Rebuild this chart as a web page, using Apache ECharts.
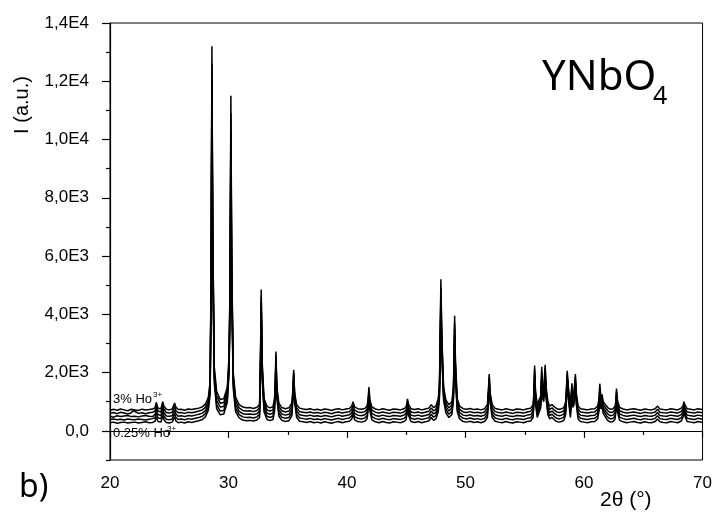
<!DOCTYPE html>
<html>
<head>
<meta charset="utf-8">
<script src="https://cdn.jsdelivr.net/npm/echarts@6/dist/echarts.min.js"></script>
<style>
  html, body { margin: 0; padding: 0; background: #fff; }
  #chart { width: 715px; height: 513px; }
</style>
</head>
<body>
<div id="chart"></div>
<script>
// 2theta grid shared by all five patterns (one line per stretch of the scan)
const twoTheta = [
  20.0, 20.3, 20.6, 20.9, 21.2, 21.5, 21.8, 21.95, 22.1, 22.4, 22.7, 23.0, 23.3, 23.6,
  23.8, 23.9, 24.05, 24.3, 24.45, 24.55, 24.75, 25.0, 25.25, 25.45, 25.55, 25.75,
  26.0, 26.3, 26.6, 26.9, 27.2, 27.5, 27.8, 28.05, 28.3, 28.45,
  28.53, 28.6, 28.67, 28.8,
  29.0, 29.3, 29.6, 29.9, 30.05,
  30.13, 30.2, 30.27, 30.4,
  30.6, 30.9, 31.2, 31.5, 31.8, 32.1, 32.4, 32.62,
  32.7, 32.76, 32.85, 33.0,
  33.25, 33.5, 33.75, 33.88,
  33.95, 34.0, 34.08, 34.25,
  34.5, 34.8, 35.1, 35.35,
  35.43, 35.5, 35.58, 35.75,
  36.0, 36.3, 36.6, 36.9, 37.2, 37.5, 37.8, 38.1, 38.4, 38.7, 39.0, 39.3, 39.6, 39.9, 40.2,
  40.4, 40.5, 40.65, 40.9, 41.2, 41.5, 41.7,
  41.78, 41.85, 41.93, 42.1,
  42.4, 42.7, 43.0, 43.3, 43.6, 43.9, 44.2, 44.5, 44.8, 44.98,
  45.05, 45.1, 45.2, 45.4,
  45.7, 46.0, 46.3, 46.6, 46.9, 47.1, 47.3, 47.5, 47.7, 47.8,
  47.86, 47.92, 48.0, 48.15,
  48.35, 48.6, 48.85, 48.98,
  49.03, 49.08, 49.15, 49.3,
  49.5, 49.8, 50.1, 50.4, 50.7, 51.0, 51.3, 51.6, 51.85,
  51.93, 52.0, 52.08, 52.25,
  52.5, 52.8, 53.1, 53.4, 53.7, 54.0, 54.3, 54.6, 54.9, 55.2, 55.5, 55.7,
  55.77, 55.83, 55.9, 56.05, 56.2, 56.35, 56.43, 56.5, 56.6, 56.72, 56.8, 56.95, 57.1,
  57.3, 57.5, 57.7, 57.9, 58.1, 58.3, 58.45,
  58.52, 58.58, 58.7, 58.85, 58.98, 59.05, 59.15, 59.27, 59.35, 59.5,
  59.7, 60.0, 60.3, 60.6, 60.9, 61.15,
  61.27, 61.33, 61.42, 61.52, 61.62, 61.75, 61.9, 62.05,
  62.25, 62.45, 62.62,
  62.68, 62.74, 62.82, 63.0,
  63.3, 63.6, 63.9, 64.2, 64.5, 64.8, 65.1, 65.4, 65.7, 66.0, 66.2, 66.4, 66.7, 67.0, 67.3, 67.6, 67.9, 68.2,
  68.35, 68.43, 68.52, 68.7,
  69.0, 69.3, 69.6, 70.0
];

// intensities, top curve (3% Ho3+) first, bottom curve (0.25% Ho3+) last
const patternA = [
  700, 740, 710, 750, 720, 690, 740, 760, 720, 700, 745, 715, 730, 750,
  800, 980, 780, 760, 1000, 850, 740, 720, 750, 960, 820, 730,
  740, 710, 750, 730, 760, 780, 830, 920, 1150, 1700,
  5500, 13200, 7000, 2200,
  1350, 1080, 1100, 1500, 2600,
  5200, 11500, 6000, 2000,
  1150, 900, 820, 790, 800, 770, 810, 900,
  2600, 4850, 2300, 1100,
  840, 790, 830, 1100,
  1700, 2720, 1500, 950,
  800, 760, 790, 960,
  1400, 2100, 1300, 900,
  780, 750, 730, 760, 720, 740, 710, 750, 730, 700, 740, 760, 720, 750, 770,
  850, 1000, 820, 760, 740, 770, 860,
  1100, 1500, 1050, 820,
  750, 720, 760, 730, 710, 750, 740, 720, 760, 820,
  950, 1100, 900, 760,
  730, 760, 720, 750, 780, 900, 800, 850, 1100, 1600,
  3200, 5200, 3300, 1500,
  1050, 900, 1000, 1500,
  2600, 3950, 2400, 1100,
  850, 760, 740, 770, 730, 750, 720, 760, 900,
  1400, 1950, 1300, 900,
  770, 740, 720, 760, 730, 710, 750, 740, 720, 760, 780, 900,
  1300, 2240, 1400, 900, 850, 1200, 2200, 1500, 1400, 2270, 1500, 1000, 850,
  900, 820, 760, 740, 760, 800, 1000,
  1500, 2060, 1400, 900, 1630, 1200, 1300, 1950, 1300, 850,
  760, 740, 720, 750, 760, 850,
  1100, 1620, 1150, 1250, 1000, 1050, 850, 780,
  740, 760, 850,
  1000, 1450, 1050, 800,
  750, 720, 740, 760, 730, 710, 750, 730, 720, 760, 850, 750, 730, 720, 760, 740, 720, 780,
  850, 1000, 880, 760,
  740, 720, 760, 730
];
const patternB = [
  600, 630, 590, 640, 610, 580, 620, 700, 640, 600, 625, 590, 620, 640,
  690, 860, 680, 650, 890, 740, 630, 610, 640, 850, 700, 620,
  630, 600, 640, 620, 650, 680, 720, 810, 1040, 1600,
  5200, 12600, 6700, 2050,
  1200, 950, 970, 1380, 2450,
  5000, 10900, 5700, 1850,
  1020, 790, 700, 680, 690, 660, 700, 790,
  2450, 4600, 2150, 980,
  720, 680, 720, 990,
  1600, 2600, 1420, 840,
  690, 650, 680, 850,
  1320, 2000, 1220, 790,
  660, 640, 620, 650, 610, 630, 600, 640, 620, 590, 630, 650, 610, 640, 660,
  740, 880, 710, 650, 630, 660, 750,
  1000, 1400, 960, 710,
  640, 610, 650, 620, 600, 640, 630, 610, 650, 710,
  860, 1000, 810, 650,
  620, 650, 610, 640, 670, 790, 690, 740, 990, 1480,
  3000, 4900, 3100, 1380,
  940, 790, 890, 1380,
  2450, 3700, 2250, 990,
  740, 650, 630, 660, 620, 640, 610, 650, 790,
  1320, 1850, 1220, 790,
  660, 630, 610, 650, 620, 600, 640, 630, 610, 650, 670, 790,
  1200, 2100, 1290, 790, 740, 1100, 2050, 1400, 1300, 2150, 1400, 890, 740,
  790, 710, 650, 630, 650, 690, 890,
  1400, 1950, 1300, 790, 1520, 1100, 1200, 1850, 1200, 740,
  650, 630, 610, 640, 650, 740,
  1000, 1500, 1050, 1150, 900, 950, 740, 670,
  630, 650, 740,
  910, 1350, 950, 690,
  640, 610, 630, 650, 620, 600, 640, 620, 610, 650, 740, 640, 620, 610, 650, 630, 610, 670,
  760, 900, 780, 650,
  630, 610, 650, 620
];
const patternC = [
  500, 470, 520, 490, 510, 530, 490, 520, 500, 480, 510, 530, 500, 490,
  570, 740, 560, 530, 780, 620, 510, 500, 520, 720, 590, 500,
  520, 490, 530, 510, 540, 570, 610, 700, 930, 1480,
  5000, 12100, 6400, 1900,
  1050, 820, 840, 1250, 2300,
  4800, 10300, 5400, 1700,
  900, 670, 590, 570, 580, 560, 590, 680,
  2300, 4400, 2000, 870,
  610, 570, 610, 880,
  1500, 2450, 1320, 730,
  580, 540, 570, 740,
  1240, 1900, 1140, 680,
  550, 530, 510, 540, 500, 520, 490, 530, 510, 480, 520, 540, 500, 530, 550,
  630, 770, 600, 540, 520, 550, 640,
  900, 1300, 870, 600,
  530, 500, 540, 510, 490, 530, 520, 500, 540, 600,
  760, 950, 720, 540,
  510, 540, 500, 530, 560, 680, 580, 630, 880, 1360,
  2850, 4600, 2900, 1260,
  830, 680, 780, 1270,
  2300, 3500, 2100, 880,
  630, 540, 520, 550, 510, 530, 500, 540, 680,
  1220, 1700, 1130, 680,
  550, 520, 500, 540, 510, 490, 530, 520, 500, 540, 560, 680,
  1100, 1950, 1180, 680, 630, 1000, 1900, 1300, 1200, 2000, 1300, 780, 630,
  680, 600, 540, 520, 540, 580, 780,
  1300, 1800, 1200, 680, 1400, 1000, 1100, 1700, 1100, 630,
  540, 520, 500, 530, 540, 630,
  900, 1400, 950, 1050, 800, 850, 630, 560,
  520, 540, 630,
  820, 1250, 850, 580,
  530, 500, 520, 540, 510, 490, 530, 510, 500, 540, 630, 530, 510, 500, 540, 520, 500, 560,
  660, 820, 690, 540,
  520, 500, 540, 510
];
const patternD = [
  390, 410, 380, 400, 370, 410, 390, 400, 380, 410, 390, 370, 400, 420,
  450, 610, 440, 420, 650, 500, 400, 380, 410, 600, 470, 390,
  410, 380, 420, 400, 430, 460, 500, 590, 820, 1380,
  4700, 11600, 6100, 1800,
  900, 680, 700, 1100, 2150,
  4500, 9600, 5100, 1600,
  780, 560, 480, 460, 470, 440, 480, 570,
  2150, 4200, 1850, 760,
  500, 460, 500, 770,
  1400, 2300, 1220, 620,
  470, 430, 460, 630,
  1160, 1800, 1060, 570,
  440, 420, 400, 430, 390, 410, 380, 420, 400, 370, 410, 430, 390, 420, 440,
  520, 660, 490, 430, 410, 440, 530,
  820, 1250, 780, 490,
  420, 390, 430, 400, 380, 420, 410, 390, 430, 490,
  660, 850, 620, 430,
  400, 430, 390, 420, 450, 570, 470, 520, 770, 1250,
  2700, 4400, 2750, 1150,
  720, 570, 670, 1160,
  2150, 3300, 1950, 770,
  520, 430, 410, 440, 400, 420, 390, 430, 570,
  1130, 1600, 1040, 570,
  440, 410, 390, 430, 400, 380, 420, 410, 390, 430, 450, 570,
  1000, 1800, 1070, 570, 520, 900, 1800, 1200, 1100, 1850, 1200, 670, 520,
  570, 490, 430, 410, 430, 470, 670,
  1200, 1700, 1100, 570, 1300, 900, 1000, 1600, 1000, 520,
  430, 410, 390, 420, 430, 520,
  800, 1300, 850, 950, 700, 750, 520, 450,
  410, 430, 520,
  730, 1150, 750, 470,
  420, 390, 410, 430, 400, 380, 420, 400, 390, 430, 520, 420, 400, 390, 430, 410, 390, 450,
  560, 740, 600, 430,
  410, 390, 430, 400
];
const patternE = [
  280, 300, 260, 290, 300, 270, 290, 280, 300, 270, 290, 310, 280, 290,
  330, 480, 320, 300, 520, 380, 290, 270, 300, 480, 350, 280,
  300, 270, 310, 290, 320, 350, 390, 480, 710, 1260,
  4500, 11200, 5800, 1650,
  760, 550, 580, 980, 2000,
  4300, 9200, 4800, 1450,
  660, 450, 370, 350, 360, 340, 370, 460,
  2000, 4000, 1700, 650,
  390, 350, 390, 660,
  1300, 2200, 1120, 510,
  360, 320, 350, 520,
  1080, 1700, 980, 460,
  330, 310, 290, 320, 280, 300, 270, 310, 290, 260, 300, 320, 280, 310, 330,
  410, 550, 380, 320, 300, 330, 420,
  720, 1150, 680, 380,
  310, 280, 320, 290, 270, 310, 300, 280, 320, 380,
  560, 800, 520, 320,
  290, 320, 280, 310, 340, 460, 360, 410, 660, 1140,
  2550, 4200, 2600, 1040,
  610, 460, 560, 1050,
  2000, 3100, 1800, 660,
  410, 320, 300, 330, 290, 310, 280, 320, 460,
  1040, 1500, 950, 460,
  330, 300, 280, 320, 290, 270, 310, 300, 280, 320, 340, 460,
  900, 1700, 960, 460, 410, 800, 1650, 1100, 1000, 1750, 1100, 560, 410,
  460, 380, 320, 300, 320, 360, 560,
  1100, 1600, 1000, 460, 1200, 800, 900, 1500, 900, 410,
  320, 300, 280, 310, 320, 410,
  700, 1200, 750, 850, 600, 650, 410, 340,
  300, 320, 410,
  640, 1050, 650, 360,
  310, 280, 300, 320, 290, 270, 310, 290, 280, 320, 410, 310, 290, 280, 320, 300, 280, 340,
  460, 650, 500, 320,
  300, 280, 320, 290
];

// y axis ticks and their labels as printed
const yTicks = [0, 2000, 4000, 6000, 8000, 10000, 12000, 14000];
const yTickLabels = ['0,0', '2,0E3', '4,0E3', '6,0E3', '8,0E3', '1,0E4', '1,2E4', '1,4E4'];
const yMinorTicks = [-1000, 1000, 3000, 5000, 7000, 9000, 11000, 13000];

const patterns = [patternA, patternB, patternC, patternD, patternE];

const toPairs = (ys) => twoTheta.map((x, i) => [x, ys[i]]).filter((p) => p[1] !== undefined);

const chart = echarts.init(document.getElementById('chart'));

const axisFont = { fontFamily: 'Liberation Sans', fontSize: 17, color: '#000' };

const option = {
  animation: false,
  backgroundColor: '#fff',
  grid: {
    left: 110,
    right: 12,
    top: 23,
    bottom: 53,
    show: true,
    borderColor: '#000',
    borderWidth: 1,
  },
  xAxis: {
    type: 'value',
    min: 20,
    max: 70,
    interval: 10,
    axisLine: { show: true, lineStyle: { color: '#000', width: 1.2 } },
    axisTick: { show: true, length: 7, lineStyle: { color: '#000', width: 1.2 } },
    minorTick: { show: true, splitNumber: 2, length: 4, lineStyle: { color: '#000', width: 1.2 } },
    axisLabel: { ...axisFont, margin: 15 },
    splitLine: { show: false },
  },
  yAxis: [
    {
      type: 'value',
      min: -1000,
      max: 14000,
      axisLine: { show: true, lineStyle: { color: '#000', width: 1.2 } },
      axisTick: { show: true, length: 8, customValues: yTicks, lineStyle: { color: '#000', width: 1.2 } },
      axisLabel: {
        ...axisFont,
        margin: 21,
        customValues: yTicks,
        formatter: (v) => yTickLabels[yTicks.indexOf(v)] ?? '',
      },
      splitLine: { show: false },
    },
    {
      type: 'value',
      min: -1000,
      max: 14000,
      position: 'left',
      axisLine: { show: false },
      axisTick: { show: true, length: 4, customValues: yMinorTicks, lineStyle: { color: '#000', width: 1.2 } },
      axisLabel: { show: false },
      splitLine: { show: false },
    },
  ],
  series: patterns.map((ys) => ({
    type: 'line',
    data: toPairs(ys),
    showSymbol: false,
    symbol: 'none',
    xAxisIndex: 0,
    yAxisIndex: 0,
    lineStyle: { color: '#000', width: 1.5 },
    silent: true,
  })),
  graphic: [
    {
      type: 'text', left: 542, top: 57,
      style: { text: 'YNbO', font: '42px "Noto Sans"', fill: '#000' },
    },
    {
      type: 'text', left: 653, top: 84,
      style: { text: '4', font: '25px "Noto Sans"', fill: '#000' },
    },
    {
      type: 'text', left: 19, top: 472,
      style: { text: 'b)', font: '32px "Noto Sans"', fill: '#000' },
    },
    {
      type: 'text', left: 600, top: 490,
      style: { text: '2θ (°)', font: '21px "Liberation Sans"', fill: '#000' },
    },
    {
      type: 'text', x: 22, y: 105, rotation: Math.PI / 2,
      style: { text: 'I (a.u.)', font: '20px "Liberation Sans"', fill: '#000', align: 'center', verticalAlign: 'middle' },
    },
    {
      type: 'text', left: 113, top: 393,
      style: { text: '3% Ho', font: '13px "Liberation Sans"', fill: '#000' },
    },
    {
      type: 'text', left: 153, top: 391,
      style: { text: '3+', font: '8px "Liberation Sans"', fill: '#000' },
    },
    {
      type: 'text', left: 113, top: 427,
      style: { text: '0.25% Ho', font: '13px "Liberation Sans"', fill: '#000' },
    },
    {
      type: 'text', left: 167, top: 425,
      style: { text: '3+', font: '8px "Liberation Sans"', fill: '#000' },
    },
  ],
};

chart.setOption(option);
</script>
</body>
</html>
